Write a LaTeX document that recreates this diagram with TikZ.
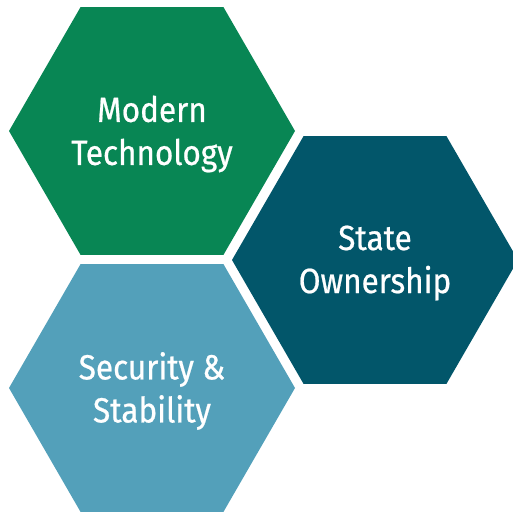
\documentclass[tikz,border=0pt]{standalone}
\usepackage{fontspec}
\setmainfont{Fira Sans}[FakeStretch=0.9, FakeBold=0.6]
\definecolor{hexgreen}{HTML}{088654}
\definecolor{hexteal}{HTML}{02566A}
\definecolor{hexblue}{HTML}{53A0BA}
\tikzset{
  hexlabel/.style={text=white, align=center, font=\fontsize{35}{43}\selectfont, inner sep=0pt, yshift=-3pt},
}
\newcommand{\hexpath}[2]{(#1+143,#2) -- (#1+71.5,#2+123.8) -- (#1-71.5,#2+123.8) -- (#1-143,#2) -- (#1-71.5,#2-123.8) -- (#1+71.5,#2-123.8) -- cycle}
\begin{document}
\begin{tikzpicture}[x=1pt,y=1pt]
\useasboundingbox (0,0) rectangle (513,512);
\clip (0,0) rectangle (513,512);
\fill[hexgreen] \hexpath{152}{381};
\fill[hexteal] \hexpath{375}{252};
\fill[hexblue] \hexpath{152}{124};
\node[hexlabel] (tech) at (152,381) {Modern\\Technology};
\node[hexlabel] (state) at (375,252) {State\\Ownership};
\node[hexlabel] (sec) at (152,124) {Security \&\\Stability};
\end{tikzpicture}
\end{document}
